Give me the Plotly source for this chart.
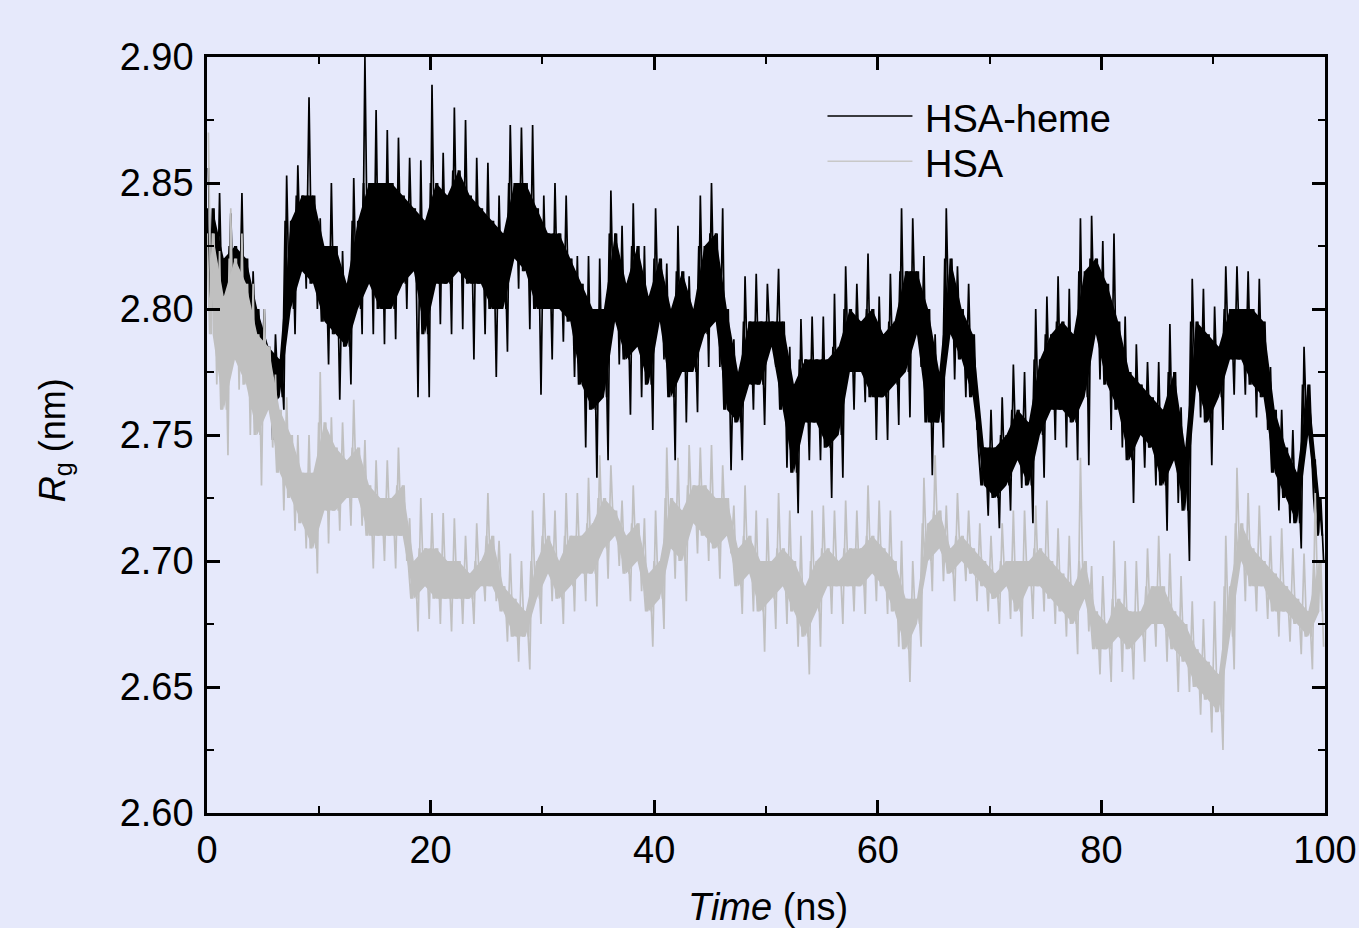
import plotly.graph_objects as go

# Time grid: readings per nanosecond, 0..99 ns
t_start = list(range(0, 100))

# extreme upper / lower excursions per ns
heme_hi = [2.856,2.846,2.838,2.846,2.815,2.800,2.790,2.853,2.857,2.884,
2.836,2.850,2.823,2.852,2.900,2.879,2.871,2.868,2.860,2.859,
2.889,2.862,2.880,2.875,2.860,2.858,2.845,2.873,2.872,2.873,
2.845,2.850,2.845,2.821,2.821,2.820,2.847,2.833,2.842,2.825,
2.840,2.818,2.833,2.813,2.845,2.850,2.840,2.788,2.813,2.814,
2.810,2.816,2.785,2.796,2.797,2.797,2.806,2.817,2.810,2.822,
2.805,2.814,2.840,2.836,2.821,2.790,2.840,2.817,2.810,2.757,
2.760,2.765,2.778,2.775,2.800,2.805,2.813,2.808,2.836,2.837,
2.827,2.830,2.797,2.786,2.779,2.779,2.794,2.761,2.812,2.808,
2.801,2.817,2.817,2.815,2.812,2.777,2.760,2.752,2.785,2.740]

heme_lo = [2.786,2.787,2.790,2.760,2.774,2.748,2.760,2.790,2.808,2.800,
2.778,2.764,2.770,2.790,2.790,2.786,2.788,2.800,2.765,2.765,
2.794,2.790,2.792,2.780,2.790,2.773,2.783,2.808,2.792,2.766,
2.780,2.787,2.773,2.745,2.733,2.740,2.778,2.758,2.765,2.752,
2.780,2.740,2.755,2.759,2.777,2.777,2.736,2.740,2.760,2.754,
2.777,2.737,2.719,2.740,2.740,2.725,2.733,2.760,2.763,2.748,
2.748,2.754,2.757,2.777,2.734,2.745,2.772,2.765,2.752,2.718,
2.713,2.720,2.729,2.715,2.733,2.748,2.745,2.740,2.738,2.772,
2.752,2.745,2.723,2.737,2.730,2.712,2.723,2.700,2.757,2.738,
2.752,2.766,2.766,2.757,2.752,2.720,2.715,2.705,2.740,2.700]

# dense core of the band per ns
heme_core_hi = [2.840,2.820,2.825,2.820,2.800,2.785,2.780,2.835,2.845,2.845,
2.825,2.825,2.810,2.835,2.850,2.850,2.850,2.845,2.840,2.835,
2.850,2.845,2.855,2.845,2.840,2.835,2.830,2.850,2.850,2.840,
2.830,2.830,2.820,2.810,2.800,2.800,2.830,2.810,2.825,2.805,
2.820,2.800,2.815,2.800,2.825,2.830,2.800,2.775,2.795,2.795,
2.795,2.795,2.770,2.780,2.780,2.780,2.785,2.800,2.795,2.800,
2.790,2.795,2.815,2.815,2.800,2.775,2.820,2.800,2.790,2.745,
2.745,2.750,2.760,2.755,2.780,2.790,2.795,2.790,2.815,2.820,
2.810,2.795,2.775,2.770,2.765,2.760,2.775,2.745,2.795,2.790,
2.785,2.800,2.800,2.800,2.795,2.760,2.745,2.735,2.770,2.725]

heme_core_lo = [2.800,2.795,2.800,2.785,2.780,2.760,2.765,2.800,2.815,2.810,
2.795,2.790,2.785,2.800,2.810,2.800,2.800,2.810,2.815,2.790,
2.810,2.810,2.815,2.810,2.810,2.800,2.800,2.820,2.815,2.800,
2.800,2.800,2.795,2.770,2.760,2.765,2.795,2.780,2.785,2.770,
2.795,2.765,2.775,2.775,2.790,2.795,2.760,2.755,2.770,2.770,
2.785,2.760,2.735,2.755,2.755,2.745,2.750,2.775,2.775,2.765,
2.765,2.770,2.775,2.790,2.755,2.755,2.790,2.780,2.765,2.730,
2.725,2.730,2.740,2.730,2.750,2.760,2.760,2.755,2.765,2.790,
2.770,2.760,2.740,2.750,2.745,2.730,2.740,2.720,2.770,2.755,
2.765,2.780,2.780,2.770,2.765,2.735,2.725,2.715,2.750,2.710]

hsa_hi = [2.870,2.823,2.840,2.830,2.810,2.800,2.774,2.765,2.750,2.750,
2.775,2.757,2.755,2.764,2.748,2.740,2.740,2.745,2.717,2.725,
2.719,2.719,2.717,2.710,2.715,2.727,2.708,2.703,2.700,2.720,
2.727,2.720,2.727,2.727,2.733,2.742,2.738,2.724,2.730,2.717,
2.720,2.745,2.741,2.746,2.745,2.746,2.738,2.722,2.730,2.720,
2.717,2.727,2.720,2.710,2.720,2.722,2.720,2.724,2.720,2.730,
2.724,2.720,2.708,2.700,2.733,2.742,2.722,2.727,2.720,2.715,
2.710,2.715,2.720,2.720,2.722,2.724,2.713,2.710,2.741,2.698,
2.694,2.708,2.700,2.700,2.705,2.710,2.703,2.694,2.684,2.677,
2.684,2.710,2.737,2.727,2.722,2.710,2.713,2.705,2.703,2.727]

hsa_lo = [2.770,2.742,2.768,2.750,2.730,2.745,2.720,2.712,2.705,2.695,
2.707,2.712,2.714,2.714,2.697,2.700,2.697,2.700,2.672,2.677,
2.675,2.672,2.675,2.675,2.684,2.684,2.668,2.660,2.657,2.675,
2.684,2.675,2.680,2.684,2.682,2.693,2.698,2.684,2.688,2.666,
2.673,2.693,2.684,2.703,2.700,2.693,2.703,2.679,2.680,2.664,
2.673,2.675,2.666,2.655,2.666,2.679,2.675,2.680,2.679,2.684,
2.679,2.666,2.652,2.666,2.688,2.692,2.684,2.692,2.684,2.680,
2.675,2.677,2.670,2.677,2.680,2.675,2.670,2.663,2.672,2.655,
2.652,2.656,2.653,2.660,2.666,2.660,2.648,2.648,2.639,2.632,
2.625,2.657,2.684,2.680,2.677,2.670,2.668,2.663,2.657,2.666]

hsa_core_hi = [2.830,2.805,2.820,2.810,2.790,2.785,2.760,2.750,2.735,2.735,
2.755,2.745,2.740,2.745,2.730,2.725,2.725,2.730,2.700,2.705,
2.705,2.700,2.700,2.695,2.700,2.710,2.690,2.685,2.680,2.700,
2.710,2.700,2.710,2.710,2.715,2.725,2.720,2.710,2.715,2.695,
2.700,2.725,2.720,2.730,2.730,2.725,2.725,2.705,2.710,2.700,
2.700,2.705,2.700,2.690,2.700,2.705,2.700,2.705,2.705,2.710,
2.705,2.700,2.685,2.685,2.715,2.720,2.705,2.710,2.705,2.700,
2.695,2.700,2.700,2.700,2.705,2.700,2.695,2.690,2.700,2.680,
2.675,2.685,2.680,2.680,2.690,2.690,2.680,2.675,2.665,2.660,
2.655,2.690,2.715,2.705,2.700,2.695,2.690,2.685,2.680,2.700]

hsa_core_lo = [2.790,2.760,2.780,2.770,2.750,2.760,2.735,2.725,2.715,2.705,
2.720,2.720,2.725,2.725,2.710,2.710,2.710,2.710,2.685,2.690,
2.685,2.685,2.685,2.685,2.690,2.690,2.680,2.670,2.670,2.685,
2.695,2.685,2.690,2.695,2.695,2.705,2.710,2.695,2.700,2.680,
2.685,2.705,2.700,2.715,2.710,2.705,2.710,2.690,2.695,2.680,
2.685,2.690,2.680,2.670,2.680,2.690,2.690,2.690,2.690,2.695,
2.690,2.680,2.665,2.675,2.700,2.705,2.695,2.700,2.695,2.690,
2.685,2.690,2.680,2.690,2.690,2.685,2.680,2.675,2.685,2.665,
2.665,2.670,2.665,2.670,2.675,2.675,2.665,2.660,2.650,2.645,
2.640,2.670,2.700,2.690,2.690,2.680,2.680,2.675,2.670,2.680]

series_names = ["HSA-heme", "HSA"]
x_ticks = [0, 20, 40, 60, 80, 100]
y_ticks = [2.60, 2.65, 2.70, 2.75, 2.80, 2.85, 2.90]


def spikes(hi, lo, chi, clo):
    # extremes interleaved with the core readings
    xs, ys = [], []
    for t, h, l, a, b in zip(t_start, hi, lo, chi, clo):
        xs += [t + 0.125, t + 0.375, t + 0.625, t + 0.875]
        ys += [h, b, a, l]
    return xs, ys


def core(chi, clo):
    # dense core: alternate between the core upper and lower readings
    xs, ys = [], []
    for t, a, b in zip(t_start, chi, clo):
        xs += [t + 0.0, t + 0.25, t + 0.5, t + 0.75]
        ys += [a, b, a, b]
    return xs, ys


def band(chi, clo):
    xs = [t + 0.5 for t in t_start]
    return xs + xs[::-1], list(chi) + list(clo)[::-1]


BG = "#E6E9FB"
FONT = "Liberation Sans, Arial, sans-serif"
COLORS = {"HSA-heme": "#000000", "HSA": "#C0C0C0"}

fig = go.Figure()
for name, hi, lo, chi, clo in [("HSA-heme", heme_hi, heme_lo, heme_core_hi, heme_core_lo),
                               ("HSA", hsa_hi, hsa_lo, hsa_core_hi, hsa_core_lo)]:
    col = COLORS[name]
    bx, by = band(chi, clo)
    fig.add_trace(go.Scatter(x=bx, y=by, mode="lines", fill="toself", fillcolor=col,
                             line=dict(width=0), showlegend=False, hoverinfo="skip"))
    cx, cy = core(chi, clo)
    fig.add_trace(go.Scatter(x=cx, y=cy, mode="lines", line=dict(color=col, width=2.0),
                             showlegend=False, hoverinfo="skip"))
    zx, zy = spikes(hi, lo, chi, clo)
    fig.add_trace(go.Scatter(x=zx, y=zy, mode="lines", name=name,
                             line=dict(color=col, width=1.7), showlegend=False))

axis_common = dict(showgrid=False, zeroline=False, showline=True, linecolor="black",
                   linewidth=2.5, mirror="allticks", ticks="inside", tickcolor="black",
                   tickwidth=2.5, ticklen=13, automargin=False,
                   tickfont=dict(family=FONT, size=38, color="black"))

fig.update_xaxes(range=[0, 100], tickvals=x_ticks, ticklabelstandoff=2,
                 ticklabeloverflow="allow",
                 minor=dict(dtick=10, ticks="inside", ticklen=7, tickwidth=2, tickcolor="black"),
                 **axis_common)
fig.update_yaxes(range=[2.60, 2.90], tickvals=y_ticks, tickformat=".2f", ticklabelstandoff=3,
                 minor=dict(dtick=0.025, ticks="inside", ticklen=7, tickwidth=2, tickcolor="black"),
                 **axis_common)

# legend drawn as lines + text
legend_rows = [(0.922, "black"), (0.862, "#C8C8C8")]
for (yy, col), name in zip(legend_rows, series_names):
    fig.add_shape(type="line", xref="paper", yref="paper", x0=0.555, x1=0.631, y0=yy, y1=yy,
                  line=dict(color=col, width=1.5))
    fig.add_annotation(xref="paper", yref="paper", x=0.640, y=yy - 0.004, text=name,
                       showarrow=False, xanchor="left", yanchor="middle",
                       font=dict(family=FONT, size=38, color="black"))

fig.add_annotation(xref="paper", yref="paper", x=0.502, y=-0.124, yanchor="middle",
                   text="<i>Time</i> (ns)", showarrow=False,
                   font=dict(family=FONT, size=38, color="black"))
fig.add_annotation(xref="paper", yref="paper", x=-0.136, y=0.493, xanchor="center",
                   yanchor="middle", text="<i>R</i><sub>g</sub> (nm)", showarrow=False,
                   textangle=-90, font=dict(family=FONT, size=36, color="black"))

fig.update_layout(width=1359, height=928, paper_bgcolor=BG, plot_bgcolor=BG,
                  margin=dict(l=207, r=34, t=57, b=115), showlegend=False)

fig.write_html("out.html")
